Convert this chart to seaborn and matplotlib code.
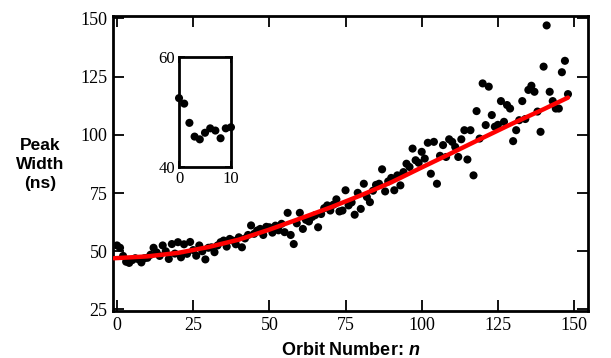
import matplotlib
matplotlib.use("Agg")
import matplotlib.pyplot as plt
import seaborn as sns
import pandas as pd
import numpy as np

# ---- data ----
orbit = list(range(0, 149))
peak_width = [
    52.5, 51.5, 48.0, 45.5, 45.0, 46.2, 47.0, 46.6, 45.2, 47.0,   # 0-9
    47.2, 48.5, 51.5, 49.5, 48.0, 52.5, 50.0, 46.7, 53.1, 49.0,   # 10-19
    53.9, 47.4, 53.0, 48.9, 54.0, 50.5, 48.1, 52.5, 50.0, 46.5,   # 20-29
    51.5, 51.7, 49.6, 52.5, 53.9, 54.6, 52.0, 55.3, 54.6, 53.0,   # 30-39
    56.0, 51.7, 55.5, 57.0, 61.1, 57.5, 58.9, 59.6, 57.0, 60.5,   # 40-49
    60.3, 58.0, 61.0, 59.0, 61.8, 58.2, 66.5, 57.0, 53.1, 62.0,   # 50-59
    66.5, 59.6, 63.5, 62.8, 64.7, 65.5, 60.3, 66.0, 68.5, 69.7,   # 60-69
    67.5, 70.0, 72.3, 67.1, 67.5, 76.2, 69.7, 71.0, 65.7, 75.1,   # 70-79
    68.2, 79.0, 73.3, 71.1, 76.0, 78.5, 79.0, 85.2, 75.7, 80.0,   # 80-89
    81.5, 76.2, 82.6, 78.3, 84.0, 87.6, 86.2, 94.1, 89.1, 88.0,   # 90-99
    92.7, 89.8, 96.6, 83.3, 97.0, 79.0, 91.0, 95.6, 90.5, 98.1,   # 100-109
    97.0, 94.8, 90.5, 98.1, 102.0, 89.4, 102.0, 82.6, 110.2, 98.4, # 110-119
    122.1, 104.2, 120.7, 108.5, 103.5, 104.3, 114.5, 105.6, 112.8, 111.3, # 120-129
    97.3, 102.0, 106.3, 114.5, 106.8, 119.3, 121.1, 118.5, 110.0, 101.3,  # 130-139
    129.3, 147.0, 118.5, 114.5, 111.3, 111.3, 126.9, 131.8, 117.5,        # 140-148
]

# fitted curve (red line)
fit_orbit = [-1, 10, 20, 30, 40, 50, 60, 70, 80, 90, 100, 110, 120, 130, 140, 148]
fit_width = [47.0, 47.8, 49.3, 51.8, 55.0, 59.3, 64.0, 68.8, 74.0, 79.6,
             86.0, 92.3, 98.7, 105.0, 111.0, 116.0]

x_ticks = [0, 25, 50, 75, 100, 125, 150]
y_ticks = [25, 50, 75, 100, 125, 150]
inset_x_ticks = [0, 10]
inset_y_ticks = [40, 60]

df = pd.DataFrame({"orbit": orbit, "width": peak_width})
fit_df = pd.DataFrame({"orbit": fit_orbit, "width": fit_width})
inset_df = df[df["orbit"] <= 10]

sns.set_theme(style="ticks")
plt.rcParams["font.family"] = ["Liberation Serif", "DejaVu Serif"]
plt.rcParams["mathtext.fontset"] = "custom"
plt.rcParams["mathtext.bf"] = "Liberation Sans:italic:bold"
plt.rcParams["mathtext.it"] = "Liberation Sans:italic:bold"
plt.rcParams["text.color"] = "black"
plt.rcParams["axes.labelcolor"] = "black"
plt.rcParams["xtick.color"] = "black"
plt.rcParams["ytick.color"] = "black"

fig = plt.figure(figsize=(6.11, 3.58), dpi=100)
ax = fig.add_axes([0.185, 0.131, 0.777, 0.824])

sns.scatterplot(data=df, x="orbit", y="width", ax=ax, color="black",
                s=34, edgecolor="none", linewidth=0, zorder=2)
sns.lineplot(data=fit_df, x="orbit", y="width", ax=ax, color="#ff0000",
             linewidth=3.2, zorder=3)

ax.set_xlim(-1.3, 154.5)
ax.set_ylim(24.3, 151)
ax.set_xticks(x_ticks)
ax.set_yticks(y_ticks)
ax.tick_params(direction="in", length=8, width=1.3, top=True, right=True,
               labelsize=13, pad=4, colors="black")
for lab in ax.get_xticklabels() + ax.get_yticklabels():
    lab.set_fontfamily("Liberation Serif")
for sp in ax.spines.values():
    sp.set_linewidth(2)
    sp.set_color("black")

ax.set_xlabel(r"Orbit Number: $\mathbf{n}$", fontsize=13, fontweight="bold",
              family="Liberation Sans", labelpad=6, color="black")
ax.set_ylabel("")
fig.text(0.066, 0.54, "Peak\nWidth\n(ns)", ha="center", va="center",
         fontsize=12.5, fontweight="bold", family="Liberation Sans",
         linespacing=1.35, color="black")

# inset
axin = fig.add_axes([0.293, 0.534, 0.085, 0.307])
sns.scatterplot(data=inset_df, x="orbit", y="width", ax=axin, color="black",
                s=34, edgecolor="none", linewidth=0, clip_on=False, zorder=3)
axin.set_xlim(0, 10)
axin.set_ylim(40, 60)
axin.set_xticks(inset_x_ticks)
axin.set_yticks(inset_y_ticks)
axin.tick_params(direction="in", length=4, width=1.3, top=True, right=True,
                 labelsize=12, pad=3, colors="black")
for lab in axin.get_xticklabels() + axin.get_yticklabels():
    lab.set_fontfamily("Liberation Serif")
axin.set_xlabel("")
axin.set_ylabel("")
for sp in axin.spines.values():
    sp.set_linewidth(2)
    sp.set_color("black")

fig.savefig("out.png", dpi=100)
